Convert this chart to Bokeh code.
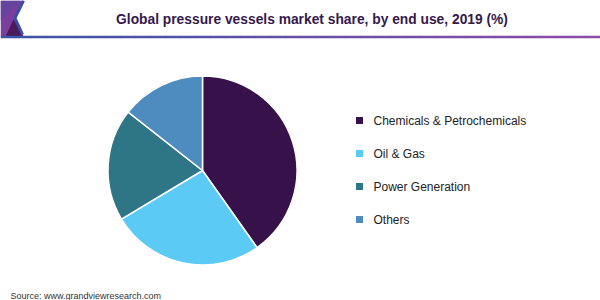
import numpy as np
from bokeh.plotting import figure
from bokeh.models import Range1d, ColumnDataSource
from bokeh.core.properties import value
from bokeh.embed import file_html
from bokeh.resources import INLINE

# ---- data ----
categories = ["Chemicals & Petrochemicals", "Oil & Gas", "Power Generation", "Others"]
shares = [40.2, 26.2, 19.2, 14.4]
colors = ["#37114A", "#5BCBF5", "#2E7585", "#4E8BBF"]
title = "Global pressure vessels market share, by end use, 2019 (%)"
source_note = "Source: www.grandviewresearch.com"

W, H = 600, 300
p = figure(width=W, height=H, output_backend="svg", toolbar_location=None,
           x_range=Range1d(0, W), y_range=Range1d(0, H), min_border=0)
p.axis.visible = False
p.grid.visible = False
p.outline_line_color = None
p.background_fill_color = "white"
p.border_fill_color = "white"

def Y(v):
    return H - v

# ---- header decoration ----
p.patch([0, 23, 15, 23, 0], [Y(0), Y(0), Y(17), Y(36), Y(36)], fill_color="#7A3F9C", line_color=None)
p.patch([0, 20, 0], [Y(0), Y(0), Y(20)], fill_color="#5E469F", line_color=None, fill_alpha=0.7)
p.patch([5, 13, 22, 22], [Y(36), Y(19), Y(33), Y(36)], fill_color="#4A1B5C", line_color=None)
p.line([23, 14.5, 22], [Y(0), Y(17.5), Y(34)], line_color="#3B4FA6", line_width=3)
# gradient bottom rule
n = 40
xs = np.linspace(0, W, n + 1)
c0 = np.array([0x3B, 0x55, 0xA8]); c1 = np.array([0x8E, 0x4C, 0xA6])
for i in range(n):
    t = i / (n - 1)
    c = (c0 * (1 - t) + c1 * t).astype(int)
    p.line([xs[i], xs[i + 1] + 0.5], [Y(36.5), Y(36.5)],
           line_color="#%02X%02X%02X" % tuple(c), line_width=2.5)

p.text([311.5], [Y(19)], text=[title], text_font=value("Liberation Sans"),
       text_font_style="bold", text_font_size="13.8px", text_color="#34194A",
       text_align="center", text_baseline="middle")

# ---- pie ----
frac = np.array(shares) / np.sum(shares)
cum = np.concatenate([[0], np.cumsum(frac)])
start = np.pi / 2 - cum[1:] * 2 * np.pi
end = np.pi / 2 - cum[:-1] * 2 * np.pi
src = ColumnDataSource(dict(start=start, end=end, color=colors, cat=categories))
p.wedge(x=202, y=Y(170), radius=94.5, start_angle="start", end_angle="end",
        fill_color="color", line_color="white", line_width=1.5, source=src)

# ---- legend ----
ly = [Y(120 + 33 * i) for i in range(len(categories))]
p.rect(x=[359] * len(categories), y=ly, width=7, height=7, fill_color=colors, line_color=None)
p.text(x=[373] * len(categories), y=ly, text=categories, text_font=value("Liberation Sans"),
       text_font_size="12px", text_color="#222222", text_baseline="middle")

# ---- source ----
p.text([10], [Y(295)], text=[source_note], text_font=value("Liberation Sans"),
       text_font_size="9px", text_color="#333333", text_baseline="middle")

open("out.html", "w").write(file_html(p, INLINE))
